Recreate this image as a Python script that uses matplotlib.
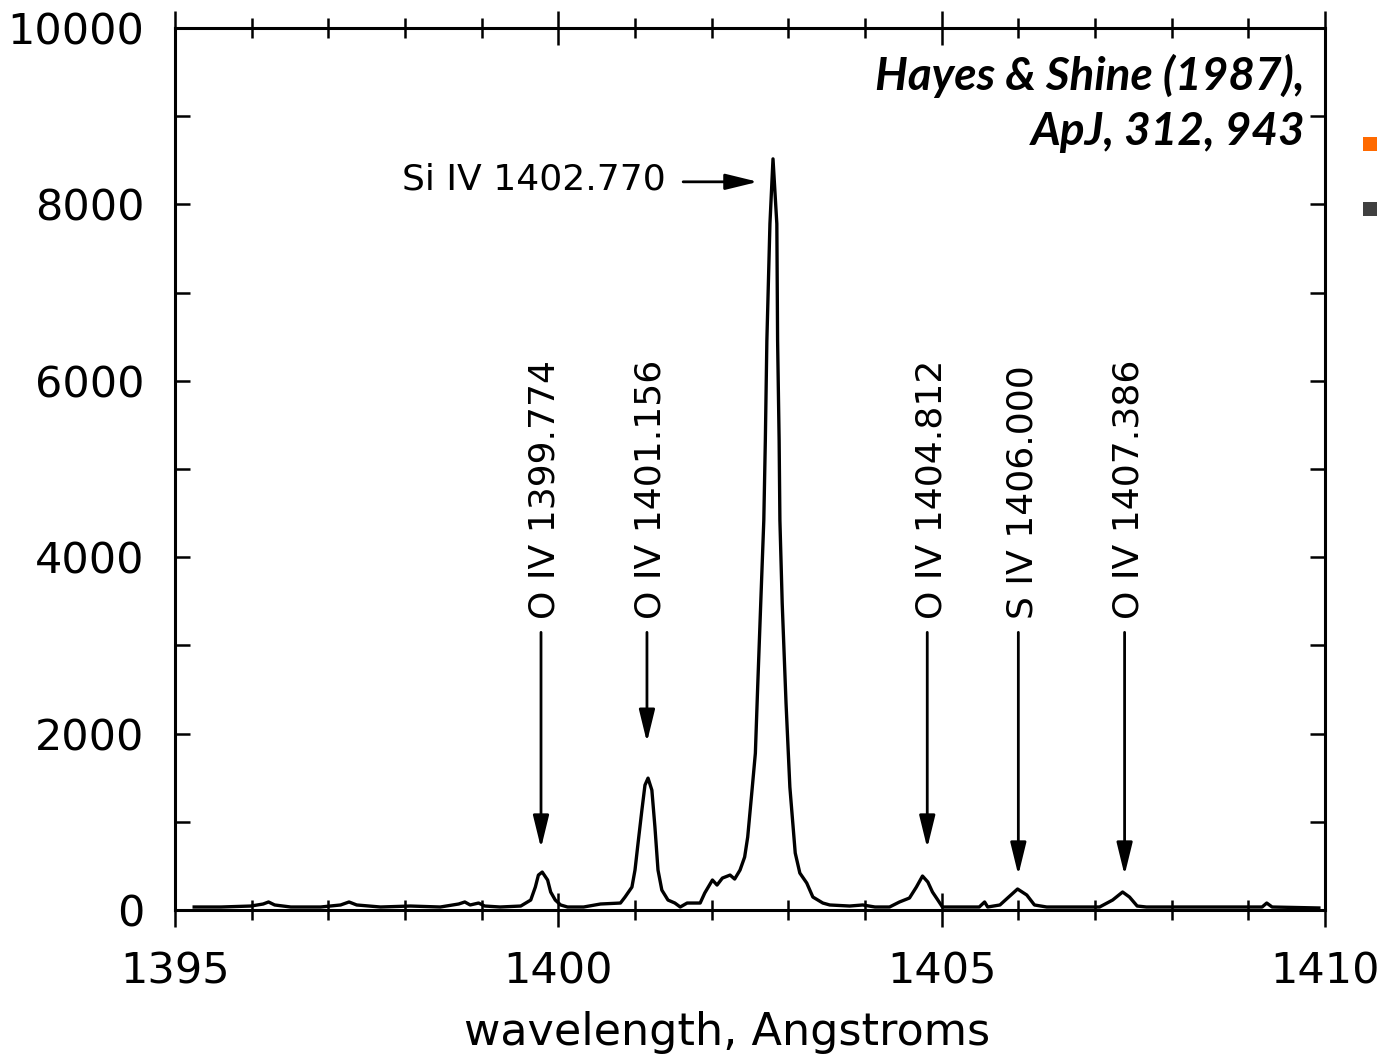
import matplotlib
matplotlib.use("Agg")
import matplotlib.pyplot as plt
from matplotlib.ticker import MultipleLocator
from matplotlib.patches import Rectangle

# ---------------- data ----------------
wavelength = [1395.25, 1395.60, 1395.99, 1396.15, 1396.22, 1396.30, 1396.51, 1396.90,
              1397.16, 1397.27, 1397.37, 1397.68, 1398.07, 1398.46, 1398.70, 1398.78,
              1398.85, 1398.96, 1399.04, 1399.24, 1399.51, 1399.64, 1399.70, 1399.74,
              1399.79, 1399.86, 1399.90, 1399.96, 1400.03, 1400.12, 1400.33, 1400.55,
              1400.81, 1400.87, 1400.96, 1401.00, 1401.04, 1401.09, 1401.13, 1401.17,
              1401.22, 1401.26, 1401.30, 1401.35, 1401.43, 1401.52, 1401.59, 1401.68,
              1401.85, 1401.91, 1402.01, 1402.07, 1402.14, 1402.24, 1402.30, 1402.37,
              1402.43, 1402.47, 1402.53, 1402.57, 1402.60, 1402.64, 1402.68, 1402.70,
              1402.72, 1402.76, 1402.80, 1402.85, 1402.86, 1402.88, 1402.89, 1402.92,
              1402.97, 1403.02, 1403.09, 1403.15, 1403.24, 1403.32, 1403.45, 1403.54,
              1403.80, 1403.97, 1404.13, 1404.32, 1404.45, 1404.58, 1404.67, 1404.75,
              1404.82, 1404.88, 1404.95, 1405.01, 1405.49, 1405.56, 1405.60, 1405.76,
              1405.86, 1405.99, 1406.11, 1406.21, 1406.37, 1407.06, 1407.23, 1407.36,
              1407.45, 1407.55, 1407.67, 1408.36, 1409.18, 1409.24, 1409.31, 1409.92]
intensity = [34, 34, 45, 68, 91, 57, 34, 34,
             57, 91, 57, 34, 45, 34, 68, 91,
             57, 79, 45, 34, 45, 113, 260, 396,
             430, 340, 204, 113, 57, 34, 34, 68,
             79, 147, 260, 453, 759, 1133, 1416, 1495,
             1359, 940, 453, 226, 113, 79, 34, 79,
             79, 193, 340, 283, 362, 396, 351, 453,
             600, 827, 1393, 1778, 2525, 3477, 4417, 5323,
             6455, 7780, 8516, 7780, 6455, 5323, 4417, 3477,
             2344, 1393, 646, 419, 306, 147, 79, 57,
             45, 57, 34, 34, 91, 136, 260, 385,
             317, 204, 113, 34, 34, 91, 34, 57,
             136, 238, 170, 57, 34, 34, 113, 204,
             147, 45, 34, 34, 34, 79, 34, 23]

line_labels = ["O IV 1399.774", "O IV 1401.156", "O IV 1404.812", "S IV 1406.000", "O IV 1407.386"]
line_wavelengths = [1399.774, 1401.156, 1404.812, 1406.000, 1407.386]
arrow_tips = [702, 1902, 702, 396, 396]
arrow_top = 3148

main_label = "Si IV 1402.770"
main_arrow_start = 1401.628
main_arrow_end = 1402.604
main_arrow_level = 8256

x_major_ticks = [1395, 1400, 1405, 1410]
y_major_ticks = [0, 2000, 4000, 6000, 8000, 10000]

citation = "Hayes & Shine (1987),\nApJ, 312, 943"

# ---------------- figure ----------------
W, H = 1379, 1058
fig = plt.figure(figsize=(W / 100, H / 100), dpi=100)
fig.patch.set_facecolor("white")
ax = fig.add_axes([175 / W, 1 - 910 / H, 1150 / W, 882 / H])

ax.plot(wavelength, intensity, color="black", lw=2.4, solid_joinstyle="round")

ax.set_xlim(1395, 1410)
ax.set_ylim(0, 10000)
ax.set_xticks(x_major_ticks)
ax.set_yticks(y_major_ticks)
ax.xaxis.set_minor_locator(MultipleLocator(1))
ax.yaxis.set_minor_locator(MultipleLocator(1000))

for s in ax.spines.values():
    s.set_linewidth(2.2)

ax.tick_params(axis="x", which="major", direction="inout", length=25, width=1.8,
               top=True, bottom=True, labelsize=31, pad=17)
ax.tick_params(axis="x", which="minor", direction="inout", length=14, width=1.8,
               top=True, bottom=True)
ax.tick_params(axis="y", which="both", direction="in", length=11, width=1.8,
               left=True, right=True, labelsize=31, pad=22)

ax.set_xlabel("wavelength, Angstroms", fontsize=32)
ax.xaxis.set_label_coords((727 - 175) / 1150, -(1011 - 910) / 882)

# line identification arrows and labels
for lab, wl, tip in zip(line_labels, line_wavelengths, arrow_tips):
    ax.annotate("", xy=(wl, tip), xytext=(wl, arrow_top),
                arrowprops=dict(arrowstyle="-|>,head_length=0.9,head_width=0.22",
                                mutation_scale=22, lw=2.0, color="black",
                                shrinkA=0, shrinkB=0))
    ax.text(wl + 0.05, arrow_top + 150, lab, rotation=90, ha="center", va="bottom",
            fontsize=26, color="black")

ax.annotate("", xy=(main_arrow_end, main_arrow_level), xytext=(main_arrow_start, main_arrow_level),
            arrowprops=dict(arrowstyle="-|>,head_length=0.9,head_width=0.22",
                            mutation_scale=22, lw=2.0, color="black",
                            shrinkA=0, shrinkB=0))
ax.text(main_arrow_start - 0.23, main_arrow_level + 30, main_label, ha="right", va="center",
        fontsize=26, color="black")

# citation
fig.text(1305 / W, 1 - 103 / H, citation, ha="right", va="center",
         fontsize=33, fontweight="bold", fontstyle="italic", family=["Lato", "DejaVu Sans"],
         linespacing=1.38, transform=fig.transFigure)

# small coloured squares at right edge
fig.add_artist(Rectangle((1363 / W, 1 - 151 / H), 14 / W, 14 / H,
                         transform=fig.transFigure, color="#FF6A00", lw=0))
fig.add_artist(Rectangle((1363 / W, 1 - 216 / H), 14 / W, 14 / H,
                         transform=fig.transFigure, color="#404040", lw=0))

fig.savefig("out.png", dpi=100)
